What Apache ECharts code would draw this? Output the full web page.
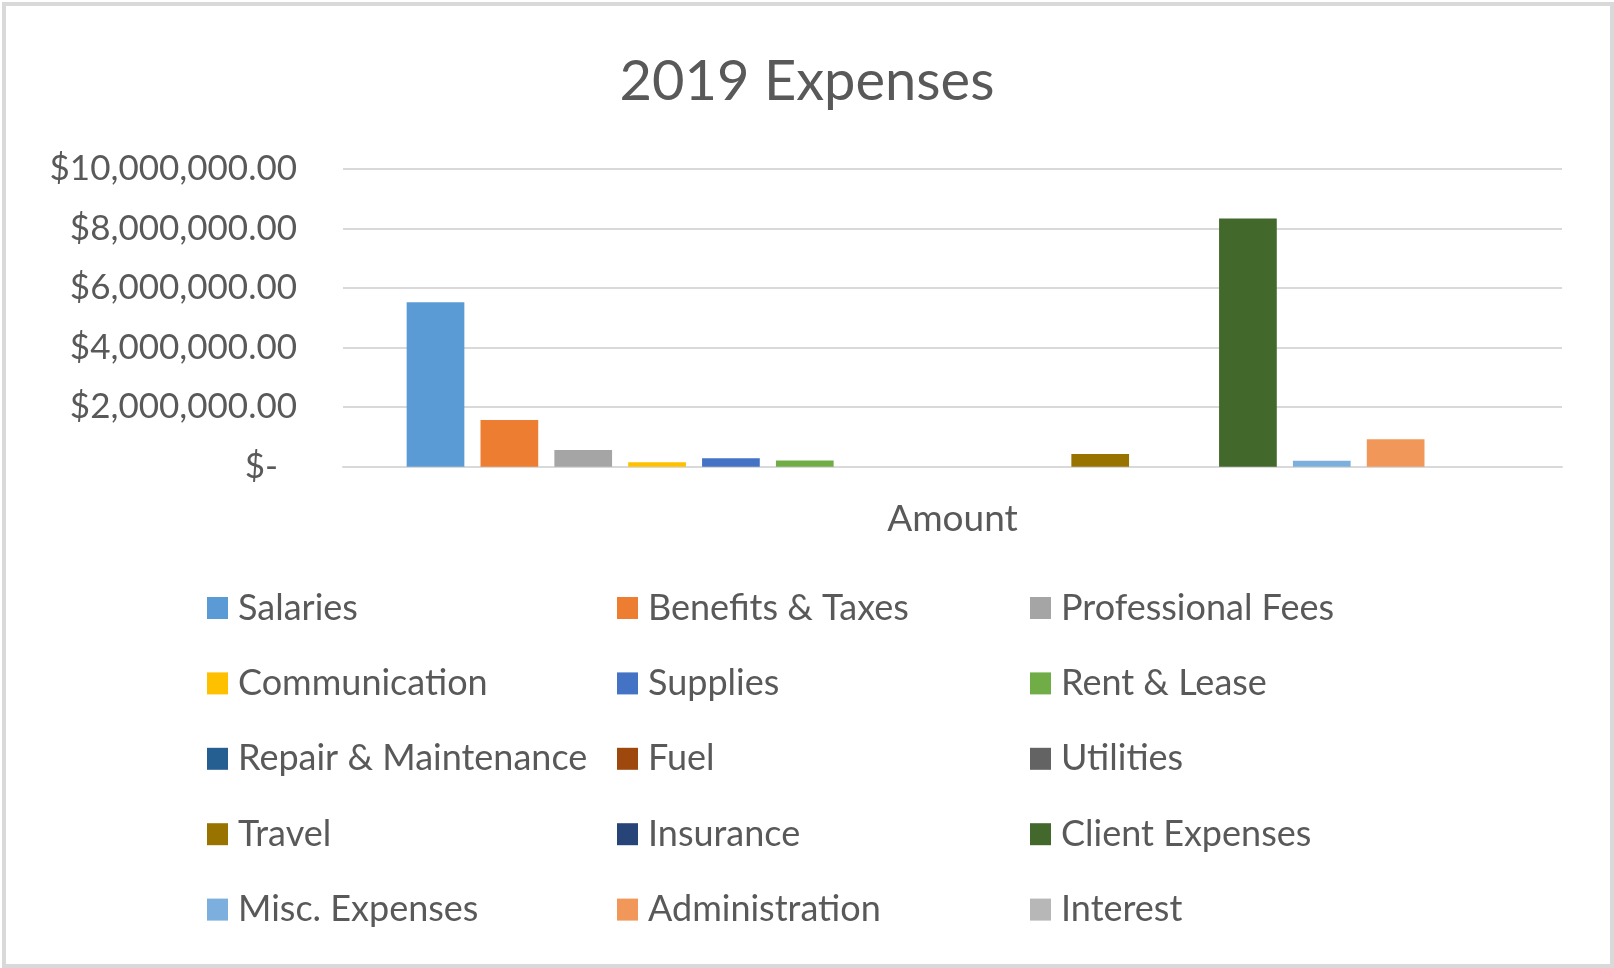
<!DOCTYPE html>
<html>
<head>
<meta charset="utf-8">
<title>2019 Expenses</title>
<script src="https://cdn.jsdelivr.net/npm/echarts@6/dist/echarts.min.js"></script>
<style>
    html, body { margin: 0; padding: 0; background: #fff; }
    #chart { width: 1614px; height: 968px; }
</style>
</head>
<body>
<div id="chart"></div>
<script>
// data
var categories = ['Amount'];
var expenseNames = [
    'Salaries', 'Benefits & Taxes', 'Professional Fees',
    'Communication', 'Supplies', 'Rent & Lease',
    'Repair & Maintenance', 'Fuel', 'Utilities',
    'Travel', 'Insurance', 'Client Expenses',
    'Misc. Expenses', 'Administration', 'Interest'
];
var expenseValues = [
    5520000, 1570000, 560000,
    150000, 280000, 210000,
    0, 0, 0,
    425000, 0, 8340000,
    200000, 920000, 0
];
var expenseColors = [
    '#5B9BD5', '#ED7D31', '#A5A5A5',
    '#FFC000', '#4472C4', '#70AD47',
    '#255E91', '#9E480E', '#636363',
    '#997300', '#264478', '#43682B',
    '#7CAFDD', '#F1975A', '#B7B7B7'
];
var yTicks = [0, 2000000, 4000000, 6000000, 8000000, 10000000];

var font = 'Lato';
var textColor = '#595959';

function money(v) {
    if (v === 0) return '{z|$-}';
    var s = String(Math.round(v));
    s = s.replace(/\B(?=(\d{3})+(?!\d))/g, ',');
    return '$' + s + '.00';
}

var series = expenseNames.map(function (name, i) {
    return {
        name: name,
        type: 'bar',
        data: [expenseValues[i]],
        barWidth: 57.7,
        barGap: '28%',
        itemStyle: { color: expenseColors[i] },
        silent: true
    };
});

// three legend columns, filled row by row like the original
var legendCols = [[], [], []];
expenseNames.forEach(function (name, i) {
    legendCols[i % 3].push(name);
});
var legendLeft = [202, 612, 1025];
var legends = legendCols.map(function (col, c) {
    return {
        orient: 'vertical',
        left: legendLeft[c],
        top: 583,
        data: col,
        icon: 'rect',
        itemWidth: 21,
        itemHeight: 22,
        itemGap: 35.4,
        selectedMode: false,
        textStyle: {
            fontFamily: font,
            fontSize: 36,
            color: textColor,
            lineHeight: 40,
            padding: [0, 0, 0, 5]
        }
    };
});

var myChart = echarts.init(document.getElementById('chart'), null, { renderer: 'canvas' });

var option = {
    backgroundColor: '#ffffff',
    animation: false,
    textStyle: { fontFamily: font },
    title: {
        text: '2019 Expenses',
        left: 'center',
        top: 49,
        textStyle: {
            fontFamily: font,
            fontSize: 56,
            fontWeight: 'normal',
            color: textColor
        }
    },
    graphic: [{
        type: 'rect',
        shape: { x: 4, y: 4, width: 1608, height: 962 },
        style: { fill: null, stroke: '#D9D9D9', lineWidth: 4 },
        silent: true
    }],
    legend: legends,
    grid: {
        left: 343,
        right: 52,
        top: 169,
        height: 297.7
    },
    xAxis: {
        type: 'category',
        data: categories,
        axisTick: { show: false },
        axisLine: { lineStyle: { color: '#D9D9D9', width: 2 } },
        axisLabel: {
            margin: 34,
            fontFamily: font,
            fontSize: 37,
            color: textColor
        }
    },
    yAxis: {
        type: 'value',
        min: yTicks[0],
        max: yTicks[yTicks.length - 1],
        interval: 2000000,
        axisLine: { show: false },
        axisTick: { show: false },
        splitLine: { lineStyle: { color: '#D9D9D9', width: 2 } },
        axisLabel: {
            margin: 46,
            fontFamily: font,
            fontSize: 35,
            color: textColor,
            formatter: money,
            rich: {
                z: {
                    fontFamily: font,
                    fontSize: 35,
                    color: textColor,
                    padding: [0, 19, 0, 0]
                }
            }
        }
    },
    series: series
};

myChart.setOption(option);
</script>
</body>
</html>
